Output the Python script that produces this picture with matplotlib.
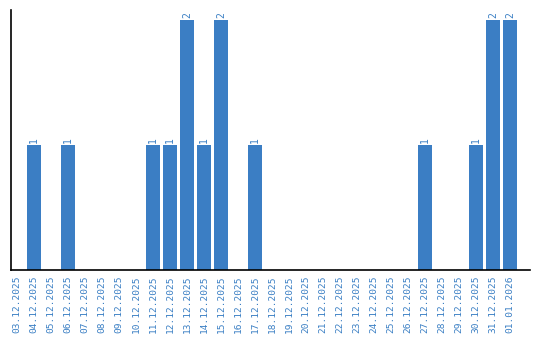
import matplotlib
matplotlib.use("Agg")
import matplotlib.pyplot as plt

dates = [
    "03.12.2025", "04.12.2025", "05.12.2025", "06.12.2025", "07.12.2025",
    "08.12.2025", "09.12.2025", "10.12.2025", "11.12.2025", "12.12.2025",
    "13.12.2025", "14.12.2025", "15.12.2025", "16.12.2025", "17.12.2025",
    "18.12.2025", "19.12.2025", "20.12.2025", "21.12.2025", "22.12.2025",
    "23.12.2025", "24.12.2025", "25.12.2025", "26.12.2025", "27.12.2025",
    "28.12.2025", "29.12.2025", "30.12.2025", "31.12.2025", "01.01.2026",
]
counts = [0, 1, 0, 1, 0, 0, 0, 0, 1, 1, 2, 1, 2, 0, 1,
          0, 0, 0, 0, 0, 0, 0, 0, 0, 1, 0, 0, 1, 2, 2]

bar_color = "#3b7ec4"
text_color = "#3a7fc4"

fig = plt.figure(figsize=(5.4, 3.4), dpi=100)
ax = fig.add_axes([11 / 540, 70 / 340, 519 / 540, 260 / 340])

x = list(range(len(dates)))
ax.bar(x, counts, width=0.82, color=bar_color)

for xi, c in zip(x, counts):
    if c > 0:
        ax.text(xi, c + 0.02, str(c), rotation=90, ha="center", va="bottom",
                color=text_color, fontsize=7, family="DejaVu Sans Mono")

ax.set_xlim(-6 / 17, 513 / 17)
ax.set_ylim(0, 2.08)
ax.set_xticks(x)
ax.set_xticklabels(dates, rotation=90, color=text_color, fontsize=6.8,
                   family="DejaVu Sans Mono")
ax.tick_params(axis="x", length=0, pad=4)
ax.set_yticks([])
ax.spines["top"].set_visible(False)
ax.spines["right"].set_visible(False)
ax.spines["left"].set_linewidth(1.2)
ax.spines["bottom"].set_linewidth(1.2)

fig.savefig("out.png", dpi=100)
